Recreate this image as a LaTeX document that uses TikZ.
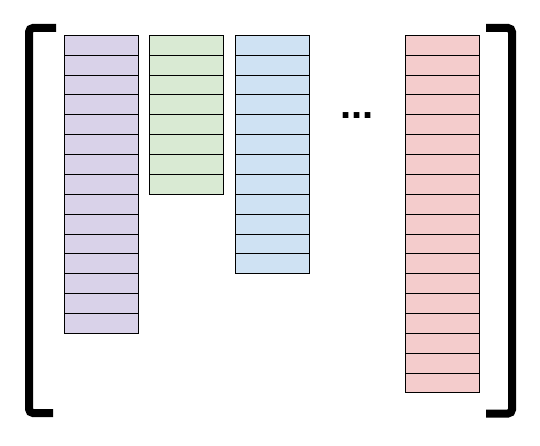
\documentclass[tikz,border=0pt]{standalone}
\usepackage{fontspec}
\newfontfamily\dotsfont{Liberation Sans}
\definecolor{colP}{HTML}{D9D2E9}
\definecolor{colG}{HTML}{D9EAD3}
\definecolor{colB}{HTML}{CFE2F3}
\definecolor{colR}{HTML}{F4CCCC}
\tikzset{
  cell/.style={draw=black, line width=1pt, inner sep=0pt, minimum width=74pt, minimum height=19.87pt},
  bracket/.style={draw=black, line width=8pt, rounded corners=4pt}
}
\begin{document}
\begin{tikzpicture}[x=1pt,y=-1pt]
\useasboundingbox (0,0) rectangle (540,446);
\foreach \n/\x/\c/\col in {p/101.3/15/colP, g/186.3/8/colG, b/272/12/colB, r/442.3/18/colR} {
  \foreach \i in {1,...,\c} {
    \node[cell, fill=\col] (\n\i) at (\x, {35.3+19.87*(\i-0.5)}) {};
  }
}
\coordinate (lt) at (56,28);
\coordinate (lb) at (53,413);
\coordinate (rt) at (486,28);
\coordinate (rb) at (486,413.5);
\draw[bracket] (lt) -- (29,28) -- (29,413) -- (lb);
\draw[bracket] (rt) -- (512,28) -- (512,413.5) -- (rb);
\node[inner sep=0pt, anchor=base] (dots) at (357,118.8) {\dotsfont\bfseries\fontsize{40}{40}\selectfont ...};
\end{tikzpicture}
\end{document}
